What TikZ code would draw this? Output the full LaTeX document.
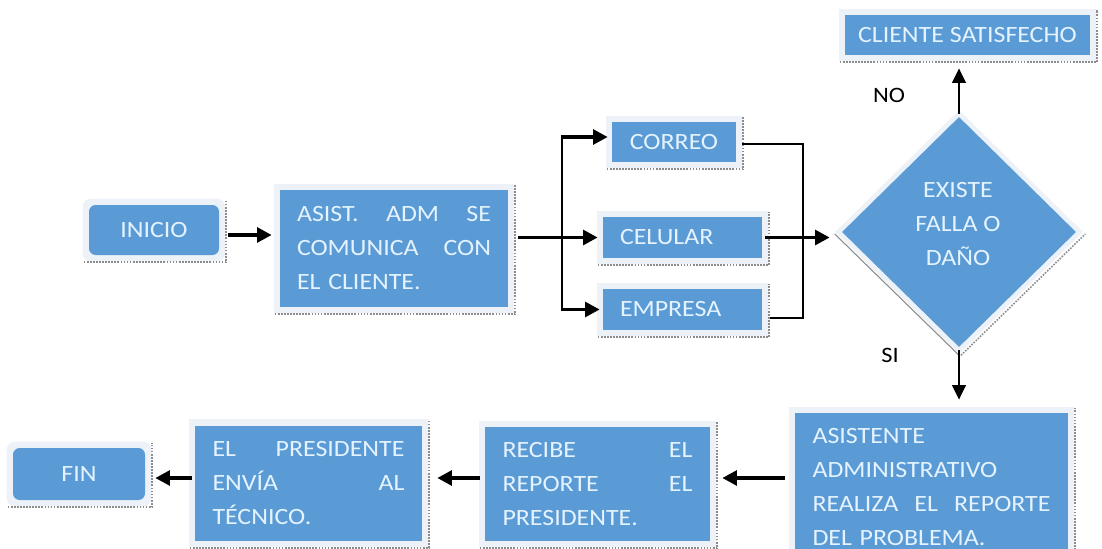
\documentclass[tikz,border=0pt]{standalone}
\usepackage{fontspec}
\setmainfont{Carlito}[FakeStretch=1.11]
\usetikzlibrary{calc,backgrounds,shapes.geometric,arrows.meta}
\definecolor{boxblue}{HTML}{5B9BD5}
\definecolor{boxtext}{HTML}{E4F3FF}
\definecolor{framec}{HTML}{EDF2F8}
\definecolor{shadowc}{HTML}{8C8C8C}
\setlength\parindent{0pt}
\newcommand\jl[1]{\noindent\hbox to\hsize{#1}\par}
\newcommand\mkframe[2][0pt]{%
  \begin{scope}[on background layer]
    \fill[framec, rounded corners=#1] ($(#2.north west)+(-6,-6)$) rectangle ($(#2.south east)+(6,6)$);
    \draw[shadowc, densely dotted, line width=1.3pt] ($(#2.south west)+(-5,7)$) -- ($(#2.south east)+(7,7)$) -- ($(#2.north east)+(7,-5)$);
  \end{scope}}
\tikzset{
  box/.style={fill=boxblue, text=boxtext, inner sep=0pt, font=\fontsize{17.5}{25.5}\selectfont, align=center},
  jbox/.style={box, align=left},
  arr/.style={line width=2.8pt, -{Triangle[length=11pt,width=11pt]}},
  varr/.style={line width=2.2pt, -{Triangle[length=11pt,width=10pt]}},
  thinline/.style={line width=1.1pt},
  lbl/.style={font=\fontsize{16.5}{18}\selectfont, text=black}
}
\begin{document}
\begin{tikzpicture}[x=0.75pt, y=-0.75pt]
\useasboundingbox (0,0) rectangle (1102,549);
\clip (0,0) rectangle (1102,549);

% nodes
\node[box, rounded corners=5pt, minimum width=97.5pt, minimum height=37.5pt] (inicio) at (154,230) {INICIO};
\node[jbox, minimum width=171pt, minimum height=87.75pt, text width=145.5pt] (asist) at (394,248.5)
  {\jl{ASIST.\hfill ADM\hfill SE}\jl{COMUNICA\hfill CON}\noindent EL CLIENTE.};
\node[box, minimum width=93pt, minimum height=30pt] (correo) at (674,142) {CORREO};
\node[jbox, inner xsep=12.75pt, text width=93.75pt, minimum height=30.75pt] (celular) at (682.5,237.5) {CELULAR};
\node[jbox, inner xsep=12.75pt, text width=93.75pt, minimum height=30.75pt] (empresa) at (682.5,309.5) {EMPRESA};
\node[box, shape=diamond, minimum width=175.5pt, minimum height=172.5pt] (diam) at (959,232) {};
\node[box, fill=none] (diamtext) at (958,224) {EXISTE\\FALLA O\\DAÑO};
\node[box, minimum width=183.75pt, minimum height=30pt] (cliente) at (967.5,35) {CLIENTE SATISFECHO};
\node[jbox, minimum width=204.75pt, minimum height=111pt, text width=178.5pt] (asistadm) at (931.5,487)
  {\noindent ASISTENTE\par\noindent ADMINISTRATIVO\par\jl{REALIZA\hfill EL\hfill REPORTE}\noindent DEL PROBLEMA.};
\node[jbox, minimum width=168.75pt, minimum height=85.5pt, text width=142.5pt] (recibe) at (597.5,484)
  {\jl{RECIBE\hfill EL}\jl{REPORTE\hfill EL}\noindent PRESIDENTE.};
\node[jbox, minimum width=170.25pt, minimum height=86.25pt, text width=144pt] (presidente) at (308.5,483)
  {\jl{EL\hfill PRESIDENTE}\jl{ENVÍA\hfill AL}\noindent TÉCNICO.};
\node[box, rounded corners=5pt, minimum width=99pt, minimum height=39pt] (fin) at (79,474) {FIN};

\node[lbl] (no) at (889,95) {NO};
\node[lbl] (si) at (890,355) {SI};

% frames
\mkframe[6pt]{inicio}
\mkframe{asist}
\mkframe{correo}
\mkframe{celular}
\mkframe{empresa}
\mkframe{cliente}
\mkframe{asistadm}
\mkframe{recibe}
\mkframe{presidente}
\mkframe[6pt]{fin}
\begin{scope}[on background layer]
  \node[shape=diamond, fill=framec, minimum width=186pt, minimum height=183pt, inner sep=0pt] (diamframe) at (diam) {};
  \draw[shadowc, line width=0.8pt] ($(diamframe.west)+(0,2)$) -- ($(diamframe.south)+(0,1)$);
  \draw[shadowc, densely dotted, line width=1.2pt] ($(diamframe.south)+(2,1)$) -- ($(diamframe.east)+(2,2)$);
\end{scope}

% branch coordinates
\coordinate (brt) at (562,137);
\coordinate (brb) at (562,309.5);

% connectors
\draw[arr] ($(inicio.east)+(9,5)$) -- ($(asist.west)+(-8,-13.5)$);
\draw[arr] ($(asist.east)+(10,-11)$) -- ($(celular.west)+(-5,0)$);
\draw[line width=1.6pt] (brt) -- (brb);
\draw[arr] ($(brt)+(-0.8,0)$) -- ($(correo.west)+(-4,-5)$);
\draw[arr] ($(brb)+(-0.8,0)$) -- ($(empresa.west)+(-3,0)$);
\draw[thinline] ($(correo.east)+(6,2)$) -| (803,318) -- ($(empresa.east)+(8,8.5)$);
\draw[arr] ($(celular.east)+(3,0)$) -- ($(diam.west)+(-12,5.5)$);
\draw[varr] ($(diam.north)+(0,-3)$) -- ($(cliente.south)+(-8.5,13)$);
\draw[varr] ($(diam.south)+(0,3)$) -- ($(asistadm.north)+(27.5,-13)$);
\draw[arr] ($(asistadm.west)+(-10,-9)$) -- ($(recibe.east)+(12,-6)$);
\draw[arr] ($(recibe.west)+(-5,-6)$) -- ($(presidente.east)+(15,-5)$);
\draw[arr] ($(presidente.west)+(-3,-5)$) -- ($(fin.east)+(10,4)$);
\end{tikzpicture}
\end{document}
